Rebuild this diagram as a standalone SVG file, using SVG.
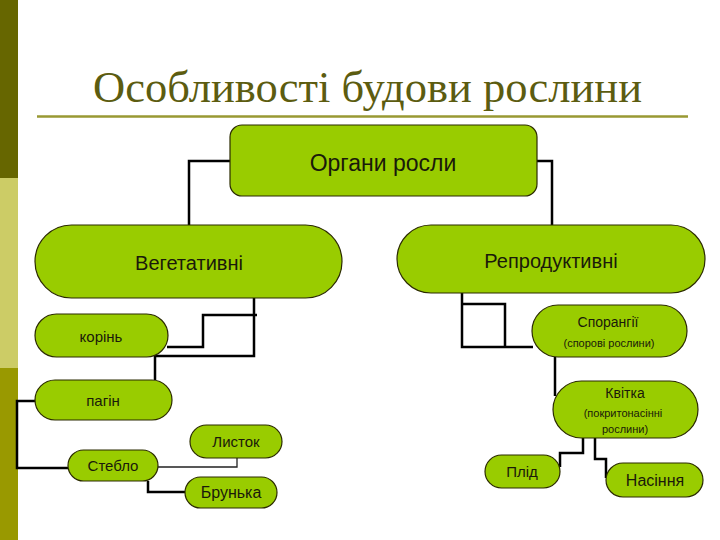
<svg xmlns="http://www.w3.org/2000/svg" width="720" height="540" viewBox="0 0 720 540">
<style>
.node{fill:#99CC00;stroke:#2b2b00;stroke-width:1.2}
.t{font-family:"Liberation Sans",Arial,sans-serif;fill:#1a1a0a;text-anchor:middle}
.c{fill:none;stroke:#000;stroke-width:2.5}
.thin{fill:none;stroke:#222;stroke-width:1.3}
</style>
<rect width="720" height="540" fill="#fff"/>
<rect x="0" y="0" width="18" height="178" fill="#666600"/>
<rect x="0" y="178" width="18" height="190" fill="#CCCC66"/>
<rect x="0" y="368" width="18" height="172" fill="#999900"/>
<text x="93" y="102" font-family="'Liberation Serif','Times New Roman',serif" font-size="45" fill="#5C5C10" textLength="549" lengthAdjust="spacingAndGlyphs">Особливості будови рослини</text>
<line x1="37" y1="116.5" x2="688" y2="116.5" stroke="#999933" stroke-width="2.5"/>
<g id="connectors">
<path class="c" d="M230,161 H189 V225"/>
<path class="c" d="M537,161 H552 V225"/>
<path class="c" d="M254,298 V356 H155 V380"/>
<path class="c" d="M167,347 H203 V315 H257"/>
<path class="c" d="M36,401 H17 V468 H68"/>
<path class="thin" d="M158,467 H237 V458"/>
<path class="c" d="M148,481 V492 H185"/>
<path class="c" d="M462,293 V347 H533"/>
<path class="c" d="M462,304 H505 V347"/>
<path class="c" d="M555,357 V396"/>
<path class="c" d="M583,438 V453 H560 V467"/>
<path class="c" d="M595,438 V459 H606 V478"/>
</g>
<g id="organy"><rect class="node" x="230" y="125" width="307" height="71" rx="12"/><text class="t" x="383" y="171" font-size="23">Органи росли</text></g>
<g id="vehetatyvni"><rect class="node" x="35" y="225" width="307" height="73" rx="36.5"/><text class="t" x="189" y="270" font-size="20">Вегетативні</text></g>
<g id="reproduktyvni"><rect class="node" x="397" y="225" width="308" height="68" rx="34"/><text class="t" x="551" y="268" font-size="20">Репродуктивні</text></g>
<g id="korin"><rect class="node" x="35" y="314" width="133" height="43" rx="21.5"/><text class="t" x="101" y="342" font-size="15">корінь</text></g>
<g id="pahin"><rect class="node" x="35" y="380" width="137" height="40" rx="20"/><text class="t" x="103" y="406" font-size="15">пагін</text></g>
<g id="steblo"><rect class="node" x="68" y="450" width="90" height="31" rx="15.5"/><text class="t" x="113" y="471" font-size="15">Стебло</text></g>
<g id="lystok"><rect class="node" x="190" y="425" width="92" height="33" rx="16.5"/><text class="t" x="236" y="447" font-size="15">Листок</text></g>
<g id="brunka"><rect class="node" x="185" y="477" width="92" height="31" rx="15.5"/><text class="t" x="231" y="498" font-size="16">Брунька</text></g>
<g id="sporanhii"><rect class="node" x="532" y="305" width="155" height="52" rx="26"/><text class="t" x="608" y="327" font-size="14">Спорангії</text><text class="t" x="609" y="347" font-size="11">(спорові рослини)</text></g>
<g id="kvitka"><rect class="node" x="553" y="381" width="145" height="57" rx="28.5"/><text class="t" x="625" y="398" font-size="14">Квітка</text><text class="t" x="623" y="417" font-size="11">(покритонасінні</text><text class="t" x="625" y="433" font-size="11">рослини)</text></g>
<g id="plid"><rect class="node" x="485" y="455" width="75" height="33" rx="16.5"/><text class="t" x="522" y="477" font-size="15">Плід</text></g>
<g id="nasinnia"><rect class="node" x="606" y="463" width="97" height="34" rx="17"/><text class="t" x="655" y="486" font-size="16">Насіння</text></g>
</svg>
